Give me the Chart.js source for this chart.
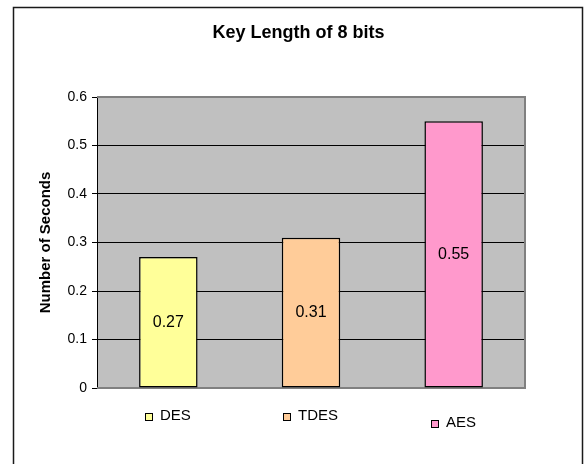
<!DOCTYPE html>
<html>
<head>
<meta charset="utf-8">
<script src="https://cdn.jsdelivr.net/npm/chart.js@4.4.1/dist/chart.umd.min.js"></script>
<style>
  html, body { margin: 0; padding: 0; background: #ffffff; }
  canvas { display: block; }
</style>
</head>
<body>
<canvas id="chart" width="584" height="464"></canvas>
<script>
// Encryption time for an 8-bit key, per algorithm
const categories = ['DES', 'TDES', 'AES'];
const seconds = [0.27, 0.31, 0.55];
const barColors = ['#FFFF99', '#FFCC99', '#FF99CC'];
const yTickValues = [0, 0.1, 0.2, 0.3, 0.4, 0.5, 0.6];

const FONT = '"Liberation Sans", Arial, sans-serif';

// White panel with a dark frame on top, left and right
const framePlugin = {
  id: 'frame',
  beforeDraw(chart) {
    const ctx = chart.ctx;
    ctx.save();
    ctx.fillStyle = '#ffffff';
    ctx.fillRect(0, 0, chart.width, chart.height);
    ctx.strokeStyle = '#1a1a1a';
    ctx.lineWidth = 1.5;
    ctx.beginPath();
    ctx.moveTo(13.5, chart.height);
    ctx.lineTo(13.5, 7.5);
    ctx.lineTo(582.5, 7.5);
    ctx.lineTo(582.5, chart.height);
    ctx.stroke();
    ctx.restore();
  }
};

// Grey plot area behind the grid, grey outline on top / right / bottom
const plotAreaPlugin = {
  id: 'plotArea',
  beforeDraw(chart) {
    const { ctx, chartArea: a } = chart;
    ctx.save();
    ctx.fillStyle = '#C0C0C0';
    ctx.fillRect(a.left, a.top, a.right - a.left, a.bottom - a.top);
    ctx.restore();
  },
  beforeDatasetsDraw(chart) {
    const { ctx, chartArea: a } = chart;
    ctx.save();
    ctx.strokeStyle = '#808080';
    ctx.lineWidth = 2;
    ctx.beginPath();
    ctx.moveTo(a.left, a.top);
    ctx.lineTo(a.right, a.top);
    ctx.lineTo(a.right, a.bottom);
    ctx.lineTo(a.left, a.bottom);
    ctx.stroke();
    ctx.restore();
  }
};

// Value printed in the middle of each bar
const barValuePlugin = {
  id: 'barValues',
  afterDatasetsDraw(chart) {
    const ctx = chart.ctx;
    const meta = chart.getDatasetMeta(0);
    ctx.save();
    ctx.font = '16px ' + FONT;
    ctx.fillStyle = '#000';
    ctx.textAlign = 'center';
    ctx.textBaseline = 'middle';
    meta.data.forEach((bar, i) => {
      const y = (bar.y + bar.base) / 2;
      ctx.fillText(String(seconds[i]), bar.x, y);
    });
    ctx.restore();
  }
};

// Legend entries sitting under each bar (the last one drops a little lower)
const legendDrop = [0, 0, 7];
const underLegendPlugin = {
  id: 'underLegend',
  afterDraw(chart) {
    const ctx = chart.ctx;
    const xScale = chart.scales.x;
    const yBase = chart.chartArea.bottom + 28;
    ctx.save();
    ctx.font = '15px ' + FONT;
    ctx.textBaseline = 'middle';
    ctx.textAlign = 'left';
    categories.forEach((name, i) => {
      const cx = xScale.getPixelForValue(i);
      const tw = ctx.measureText(name).width;
      const box = 8, gap = 7;
      const start = Math.round(cx - (box + gap + tw) / 2);
      const y = yBase + legendDrop[i];
      ctx.fillStyle = barColors[i];
      ctx.fillRect(start, y - box / 2 + 1, box, box);
      ctx.strokeStyle = '#000';
      ctx.lineWidth = 1;
      ctx.strokeRect(start + 0.5, y - box / 2 + 1.5, box - 1, box - 1);
      ctx.fillStyle = '#000';
      ctx.fillText(name, start + box + gap, y);
    });
    ctx.restore();
  }
};

new Chart(document.getElementById('chart'), {
  type: 'bar',
  data: {
    labels: categories,
    datasets: [{
      label: 'Number of Seconds',
      data: seconds,
      backgroundColor: barColors,
      borderColor: '#000',
      borderWidth: 1.5,
      borderSkipped: false,
      barPercentage: 0.41,
      categoryPercentage: 1
    }]
  },
  options: {
    responsive: false,
    devicePixelRatio: 1,
    animation: false,
    layout: { padding: { left: 13, right: 0, top: 0, bottom: 76 } },
    plugins: {
      legend: { display: false },
      tooltip: { enabled: false },
      title: {
        display: true,
        text: 'Key Length of 8 bits',
        color: '#000',
        font: { family: FONT, size: 18, weight: 'bold' },
        padding: { top: 22.2, bottom: 53.2 }
      }
    },
    scales: {
      x: {
        display: false,
        grid: { display: false }
      },
      y: {
        min: 0,
        max: 0.6,
        afterFit(scale) { scale.width = 84; },
        afterBuildTicks(scale) {
          scale.ticks = yTickValues.map(v => ({ value: v }));
        },
        ticks: {
          color: '#000',
          font: { family: FONT, size: 14 },
          padding: 5,
          callback: v => String(v)
        },
        grid: {
          color: '#000',
          lineWidth: 1,
          tickLength: 5,
          drawOnChartArea: true
        },
        border: { display: true, color: '#000', width: 1 },
        title: {
          display: true,
          text: 'Number of Seconds',
          color: '#000',
          font: { family: FONT, size: 15, weight: 'bold' },
          padding: { top: 24, bottom: 0 }
        }
      },
      // empty axis on the right keeps the plot clear of the frame edge
      spacer: {
        type: 'linear',
        position: 'right',
        display: true,
        afterFit(scale) { scale.width = 59; },
        ticks: { display: false },
        grid: { display: false, drawTicks: false },
        border: { display: false }
      }
    }
  },
  plugins: [framePlugin, plotAreaPlugin, barValuePlugin, underLegendPlugin]
});
</script>
</body>
</html>
